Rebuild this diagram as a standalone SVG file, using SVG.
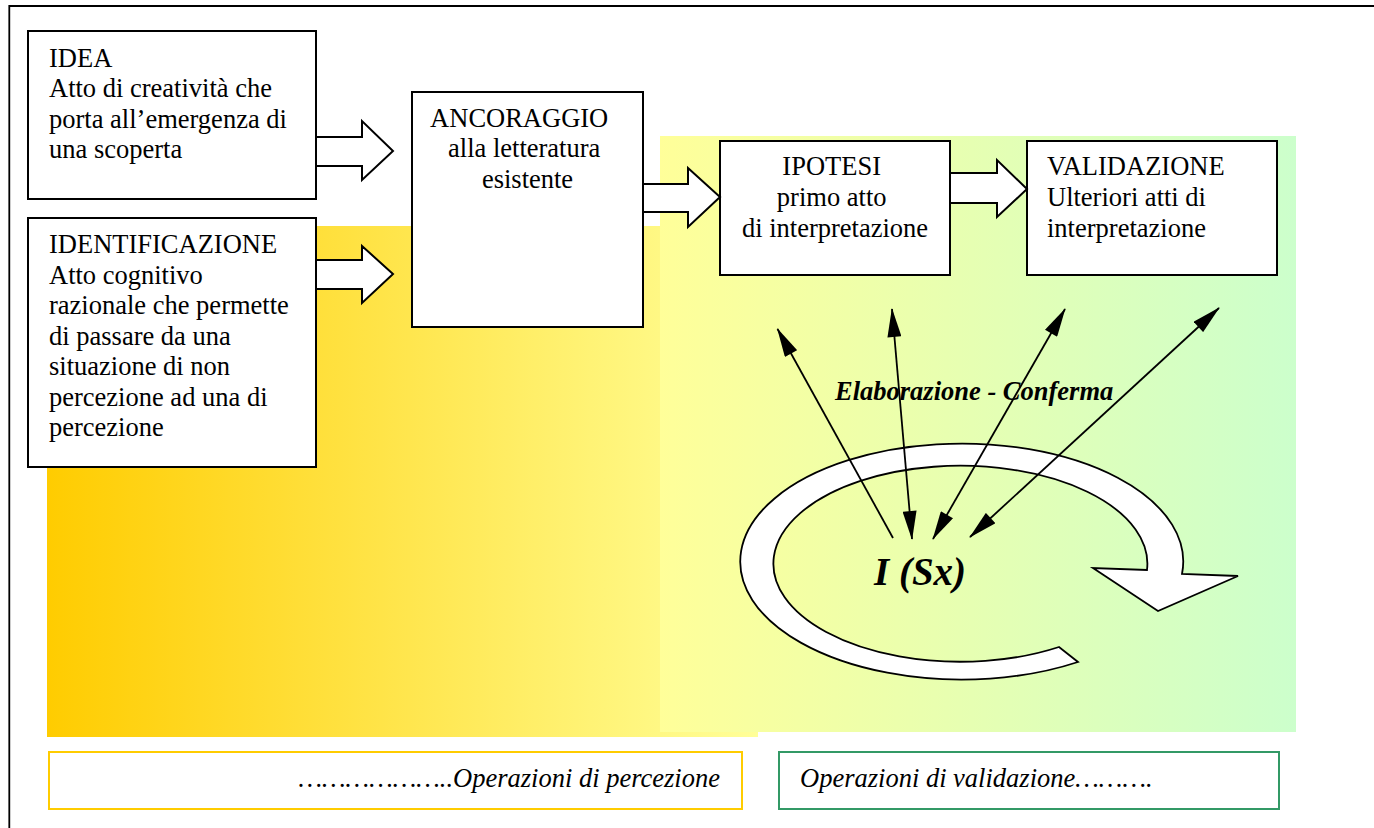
<svg xmlns="http://www.w3.org/2000/svg" width="1374" height="828" viewBox="0 0 1374 828">
  <defs>
    <linearGradient id="warm" x1="0" y1="0" x2="1" y2="0">
      <stop offset="0" stop-color="#FFCC00"/>
      <stop offset="1" stop-color="#FFFF99"/>
    </linearGradient>
    <linearGradient id="cool" x1="0" y1="0" x2="1" y2="0">
      <stop offset="0" stop-color="#FFFF99"/>
      <stop offset="1" stop-color="#CCFFCC"/>
    </linearGradient>
    <marker id="head" markerUnits="userSpaceOnUse" markerWidth="30" markerHeight="14" viewBox="0 0 29 14" refX="28" refY="7" orient="auto-start-reverse">
      <path d="M0,0 L29,7 L0,14 Z" fill="#000"/>
    </marker>
    <style>
      .box { fill: #fff; stroke: #000; stroke-width: 2; }
      .block { fill: #fff; stroke: #000; stroke-width: 2; stroke-linejoin: miter; }
      .txt { font-family: "Liberation Serif", "Times New Roman", serif; font-size: 26.5px; fill: #000; }
      .mid { text-anchor: middle; }
      .ital { font-style: italic; }
      .bi { font-style: italic; font-weight: bold; }
      .thin { stroke: #000; stroke-width: 1.8; fill: none; }
      .cycle { fill: #fff; stroke: #000; stroke-width: 1.8; stroke-linejoin: miter; }
    </style>
  </defs>

  <!-- page frame, open to the right and bottom -->
  <path d="M1374,6 H9.3 V828" fill="none" stroke="#000" stroke-width="1.8"/>

  <!-- shaded phase backgrounds -->
  <g id="backgrounds">
    <rect x="47" y="226" width="711" height="511" fill="url(#warm)"/>
    <rect x="660" y="136" width="636" height="596" fill="url(#cool)"/>
  </g>

  <g id="idea">
    <rect class="box" x="28" y="31" width="288" height="168"/>
    <text class="txt" x="49">
      <tspan x="49" y="66.5">IDEA</tspan>
      <tspan x="49" y="97">Atto di creatività che</tspan>
      <tspan x="49" y="127.5">porta all’emergenza di</tspan>
      <tspan x="49" y="158">una scoperta</tspan>
    </text>
  </g>

  <g id="identificazione">
    <rect class="box" x="28" y="218" width="288" height="249"/>
    <text class="txt" x="49">
      <tspan x="49" y="253">IDENTIFICAZIONE</tspan>
      <tspan x="49" y="283.5">Atto cognitivo</tspan>
      <tspan x="49" y="314">razionale che permette</tspan>
      <tspan x="49" y="344.5">di passare da una</tspan>
      <tspan x="49" y="375">situazione di non</tspan>
      <tspan x="49" y="405.5">percezione ad una di</tspan>
      <tspan x="49" y="436">percezione</tspan>
    </text>
  </g>

  <g id="ancoraggio">
    <rect class="box" x="412" y="92" width="231" height="235"/>
    <text class="txt mid">
      <tspan x="522.5" y="126.5">ANCORAGGIO</tspan>
      <tspan x="527.5" y="157">alla letteratura</tspan>
      <tspan x="527.5" y="188">esistente</tspan>
    </text>
  </g>

  <g id="ipotesi">
    <rect class="box" x="720" y="141" width="230" height="134"/>
    <text class="txt mid">
      <tspan x="835" y="175">IPOTESI</tspan>
      <tspan x="835" y="206">primo atto</tspan>
      <tspan x="835" y="236.5">di interpretazione</tspan>
    </text>
  </g>

  <g id="validazione">
    <rect class="box" x="1027" y="141" width="250" height="134"/>
    <text class="txt">
      <tspan x="1047" y="175">VALIDAZIONE</tspan>
      <tspan x="1047" y="206">Ulteriori atti di</tspan>
      <tspan x="1047" y="236.5">interpretazione</tspan>
    </text>
  </g>

  <!-- circular process arrow around I(Sx) -->
  <g id="ciclo">
    <path class="cycle" d="M1078,662 A221.5,118 0 1 1 1182,574 L1238,576 L1158,611 L1093,568 L1147,570 A187,98 0 1 0 1059,647 Z"/>
    <text class="txt bi" x="874" y="585" style="font-size:39px">I (Sx)</text>
  </g>

  <g id="percezione">
    <rect x="49" y="752" width="693" height="57" fill="#fff" stroke="#FFCC00" stroke-width="2"/>
    <text class="txt ital" x="720" y="787" text-anchor="end">………………..Operazioni di percezione</text>
  </g>

  <g id="operazioni-validazione">
    <rect x="779" y="752" width="500" height="57" fill="#fff" stroke="#339966" stroke-width="2"/>
    <text class="txt ital" x="800" y="787">Operazioni di validazione……….</text>
  </g>

  <g id="connectors">
    <!-- block arrows between the stages -->
    <path class="block" d="M316,137 H362 V121 L393,151 L362,180 V166 H316 Z"/>
    <path class="block" d="M316,260 H362 V246 L393,274 L362,303 V289 H316 Z"/>
    <path class="block" d="M643,184 H688 V168 L720,197 L688,227 V212 H643 Z"/>
    <path class="block" d="M950,173 H997 V160 L1027,189 L997,217 V203 H950 Z"/>

    <text class="txt bi" x="835" y="400">Elaborazione - Conferma</text>

    <!-- elaboration / confirmation rays -->
    <line class="thin" x1="893" y1="538" x2="777.5" y2="329" marker-end="url(#head)"/>
    <line class="thin" x1="912" y1="539" x2="892" y2="309" marker-start="url(#head)" marker-end="url(#head)"/>
    <line class="thin" x1="933" y1="539" x2="1065" y2="309" marker-start="url(#head)" marker-end="url(#head)"/>
    <line class="thin" x1="970" y1="537" x2="1219" y2="308" marker-start="url(#head)" marker-end="url(#head)"/>
  </g>
</svg>
